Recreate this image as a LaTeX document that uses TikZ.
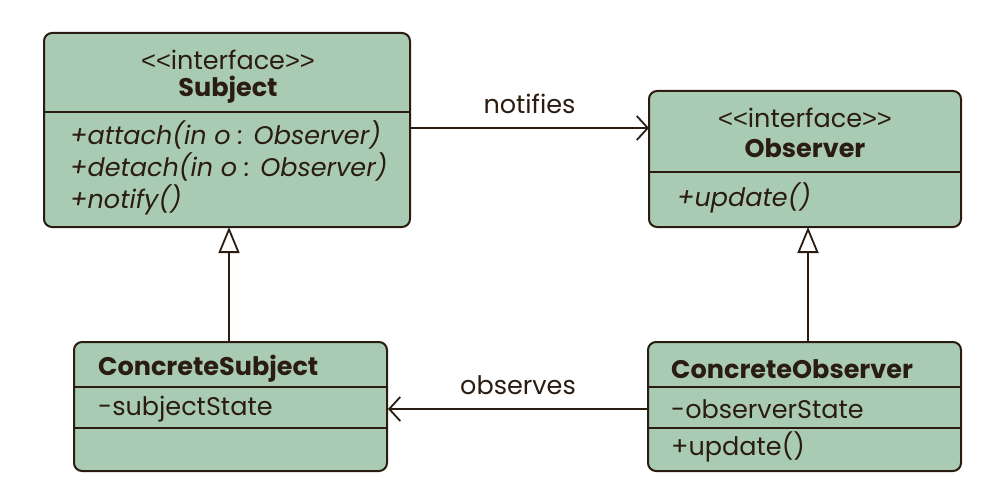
\documentclass[tikz,border=0pt]{standalone}
\usepackage{fontspec}
\setmainfont{Poppins}
\newfontfamily\bracketfont{Liberation Sans}
\usetikzlibrary{arrows.meta}
\definecolor{boxfill}{HTML}{A9CBB4}
\definecolor{ink}{HTML}{2A1C10}
% guillemet-free stereotype markers, set as plain angle brackets
\newcommand{\stereo}[1]{{\bracketfont<{}<}#1{\bracketfont>{}>}}
\begin{document}
\begin{tikzpicture}[x=1pt,y=-1pt,
  classbox/.style={draw=ink, fill=boxfill, line width=2pt, rounded corners=8pt},
  divider/.style={draw=ink, line width=1.8pt},
  conn/.style={draw=ink, line width=1.8pt},
  txt/.style={text=ink, font=\fontsize{25.5}{30}\selectfont, inner sep=0pt},
  boldtxt/.style={txt, font=\fontsize{25.5}{30}\selectfont\bfseries},
  lbl/.style={txt, anchor=west},
  inherit/.style={conn, -{Triangle[open, length=26pt, width=21pt, fill=white, line width=1.8pt]}},
  assoc/.style={conn, -{Straight Barb[length=11pt, width=24pt, line width=1.8pt]}}
]
\useasboundingbox (0,0) rectangle (992,500);

% Subject interface
\path[classbox] (44,33) rectangle (410,227);
\draw[divider] (44,112) -- (410,112);
\node[txt] (subjSt) at (228,60) {\stereo{interface}};
\node[boldtxt] (subjName) at (228,90) {Subject};
\node[lbl] (m1) at (70,135) {\itshape +attach(in o : Observer)};
\node[lbl] (m2) at (70,167) {\itshape +detach(in o : Observer)};
\node[lbl] (m3) at (70,200) {\itshape +notify()};
\coordinate (subjTop) at (229,227);
\coordinate (subjR) at (410,128);

% Observer interface
\path[classbox] (649,91) rectangle (961,227);
\draw[divider] (649,172) -- (961,172);
\node[txt] (obsSt) at (805,118) {\stereo{interface}};
\node[boldtxt] (obsName) at (805,148) {Observer};
\node[lbl] (m4) at (677,198) {\itshape +update()};
\coordinate (obsL) at (649,128);
\coordinate (obsBot) at (808,227);

% ConcreteSubject
\path[classbox] (74,342) rectangle (387,471);
\draw[divider] (74,387) -- (387,387);
\draw[divider] (74,428) -- (387,428);
\node[boldtxt, anchor=west] (csName) at (98,369) {ConcreteSubject};
\node[lbl] (csAttr) at (98,409) {-subjectState};
\coordinate (csTop) at (229,342);
\coordinate (csR) at (388,409);

% ConcreteObserver
\path[classbox] (648,342) rectangle (961,471);
\draw[divider] (648,387) -- (961,387);
\draw[divider] (648,428) -- (961,428);
\node[boldtxt, anchor=west] (coName) at (671,369) {ConcreteObserver};
\node[lbl] (coAttr) at (671,409) {-observerState};
\node[lbl] (coOp) at (671,447) {+update()};
\coordinate (coTop) at (808,342);
\coordinate (coL) at (648,409);

% Connectors
\draw[assoc] (subjR) -- node[txt, above=13pt] (notif) {notifies} (obsL);
\draw[assoc] (coL) -- node[txt, above=13pt] (obsv) {observes} (csR);
\draw[inherit] (csTop) -- (subjTop);
\draw[inherit] (coTop) -- (obsBot);
\end{tikzpicture}
\end{document}
